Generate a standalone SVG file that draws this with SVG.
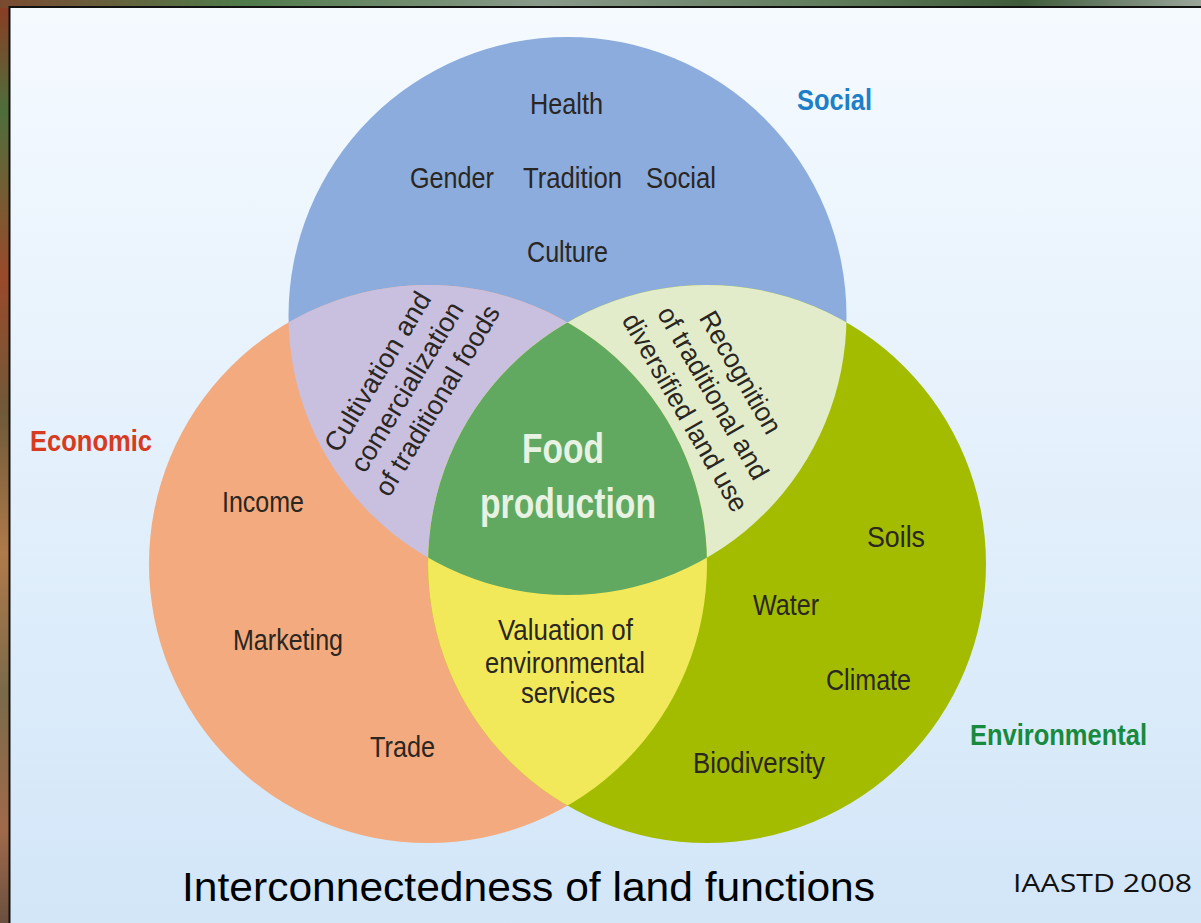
<svg xmlns="http://www.w3.org/2000/svg" width="1201" height="923" viewBox="0 0 1201 923">
<defs>
<linearGradient id="bg" x1="0" y1="0" x2="0" y2="1">
<stop offset="0" stop-color="#F5FAFF"/>
<stop offset="1" stop-color="#D2E6F8"/>
</linearGradient>
<linearGradient id="frameL" x1="0" y1="0" x2="0" y2="1">
<stop offset="0" stop-color="#8E3A24"/>
<stop offset="0.12" stop-color="#4E6E3C"/>
<stop offset="0.3" stop-color="#9A4A2A"/>
<stop offset="0.45" stop-color="#6F5A3A"/>
<stop offset="0.6" stop-color="#B07A4A"/>
<stop offset="0.75" stop-color="#7A6A4A"/>
<stop offset="0.9" stop-color="#A06A4A"/>
<stop offset="1" stop-color="#6A5040"/>
</linearGradient>
<linearGradient id="frameT" x1="0" y1="0" x2="1" y2="0">
<stop offset="0" stop-color="#7A4A30"/>
<stop offset="0.2" stop-color="#4F7A4A"/>
<stop offset="0.45" stop-color="#8A9A8A"/>
<stop offset="0.7" stop-color="#5E7A5A"/>
<stop offset="0.85" stop-color="#3E5A3A"/>
<stop offset="1" stop-color="#9AA69A"/>
</linearGradient>
<clipPath id="cBlue"><circle cx="567.5" cy="316" r="279"/></clipPath>
<clipPath id="cOrange"><circle cx="428" cy="564" r="279"/></clipPath>
<style>
.lbl{font-family:"Liberation Sans Narrow","Liberation Sans",Arial,sans-serif;font-size:30px;fill:#2A2622;text-anchor:middle}
.rot{font-family:"Liberation Sans Narrow","Liberation Sans",Arial,sans-serif;font-size:27px;fill:#2A2622;text-anchor:middle}
.head{font-family:"Liberation Sans Narrow","Liberation Sans",Arial,sans-serif;font-size:30px;font-weight:bold;text-anchor:middle}
.core{font-family:"Liberation Sans Narrow","Liberation Sans",Arial,sans-serif;font-size:42px;font-weight:bold;fill:#E8F2E2;text-anchor:middle}
</style>
</defs>
<rect x="0" y="0" width="1201" height="923" fill="url(#frameL)"/>
<rect x="0" y="0" width="1201" height="8" fill="url(#frameT)"/>
<rect x="9.5" y="7" width="1195" height="920" fill="url(#bg)" stroke="#111" stroke-width="2"/>

<g id="circle-social"><circle cx="567.5" cy="316" r="279" fill="#8BACDC"/></g>
<g id="circle-economic"><circle cx="428" cy="564" r="279" fill="#F2AA7E"/></g>
<g id="circle-environmental"><circle cx="707" cy="564" r="279" fill="#A3BC00"/></g>
<g id="overlap-social-economic" clip-path="url(#cBlue)"><circle cx="428" cy="564" r="279" fill="#C9BFDF"/></g>
<g id="overlap-social-environmental" clip-path="url(#cBlue)"><circle cx="707" cy="564" r="279" fill="#E2ECCB"/></g>
<g id="overlap-economic-environmental" clip-path="url(#cOrange)"><circle cx="707" cy="564" r="279" fill="#F2E95A"/></g>
<g id="core" clip-path="url(#cBlue)"><g clip-path="url(#cOrange)"><circle cx="707" cy="564" r="279" fill="#61A860"/></g></g>

<g id="connectors"/>

<g id="labels-social">
<text class="head" x="834.5" y="110" fill="#1E7FC8" textLength="75" lengthAdjust="spacingAndGlyphs">Social</text>
<text class="lbl" x="566.5" y="114" textLength="73" lengthAdjust="spacingAndGlyphs">Health</text>
<text class="lbl" x="452" y="188" textLength="84" lengthAdjust="spacingAndGlyphs">Gender</text>
<text class="lbl" x="572.5" y="188" textLength="99" lengthAdjust="spacingAndGlyphs">Tradition</text>
<text class="lbl" x="681" y="188" textLength="70" lengthAdjust="spacingAndGlyphs">Social</text>
<text class="lbl" x="567.5" y="262" textLength="81" lengthAdjust="spacingAndGlyphs">Culture</text>
</g>
<g id="labels-economic">
<text class="head" x="91" y="451" fill="#D83A1E" textLength="122" lengthAdjust="spacingAndGlyphs">Economic</text>
<text class="lbl" x="263" y="512" textLength="82" lengthAdjust="spacingAndGlyphs">Income</text>
<text class="lbl" x="288" y="650" textLength="110" lengthAdjust="spacingAndGlyphs">Marketing</text>
<text class="lbl" x="402.5" y="757" textLength="65" lengthAdjust="spacingAndGlyphs">Trade</text>
</g>
<g id="labels-environmental">
<text class="head" x="1058.5" y="745" fill="#178A3E" textLength="177" lengthAdjust="spacingAndGlyphs">Environmental</text>
<text class="lbl" x="896" y="547" textLength="58" lengthAdjust="spacingAndGlyphs">Soils</text>
<text class="lbl" x="786" y="615" textLength="66" lengthAdjust="spacingAndGlyphs">Water</text>
<text class="lbl" x="868.5" y="690" textLength="85" lengthAdjust="spacingAndGlyphs">Climate</text>
<text class="lbl" x="759" y="773" textLength="132" lengthAdjust="spacingAndGlyphs">Biodiversity</text>
</g>
<g id="label-core">
<text class="core" x="563" y="463" textLength="82" lengthAdjust="spacingAndGlyphs">Food</text>
<text class="core" x="568" y="518" textLength="176" lengthAdjust="spacingAndGlyphs">production</text>
</g>
<g id="label-economic-environmental">
<text class="lbl" x="565.5" y="640" font-size="27" textLength="135" lengthAdjust="spacingAndGlyphs">Valuation of</text>
<text class="lbl" x="565" y="673" font-size="27" textLength="160" lengthAdjust="spacingAndGlyphs">environmental</text>
<text class="lbl" x="568" y="703" font-size="27" textLength="94" lengthAdjust="spacingAndGlyphs">services</text>
</g>
<g id="label-social-economic" transform="translate(407,387) rotate(-59)">
<text class="rot" x="-2" y="-24" textLength="181" lengthAdjust="spacingAndGlyphs">Cultivation and</text>
<text class="rot" x="0" y="9" textLength="193" lengthAdjust="spacingAndGlyphs">comercialization</text>
<text class="rot" x="4" y="42" textLength="217" lengthAdjust="spacingAndGlyphs">of traditional foods</text>
</g>
<g id="label-social-environmental" transform="translate(713,393) rotate(60)">
<text class="rot" x="-4" y="-25" textLength="137" lengthAdjust="spacingAndGlyphs">Recognition</text>
<text class="rot" x="0" y="9" textLength="195" lengthAdjust="spacingAndGlyphs">of traditional and</text>
<text class="rot" x="3" y="43" textLength="224" lengthAdjust="spacingAndGlyphs">diversified land use</text>
</g>
<g id="caption">
<text x="528.5" y="901" font-family="'Liberation Sans',Arial,sans-serif" font-size="40" fill="#000" text-anchor="middle" textLength="693" lengthAdjust="spacingAndGlyphs">Interconnectedness of land functions</text>
<text x="1102.5" y="892" font-family="'Open Sans','Noto Sans',sans-serif" font-size="25" fill="#111" text-anchor="middle" textLength="179" lengthAdjust="spacingAndGlyphs">IAASTD 2008</text>
</g>
</svg>
